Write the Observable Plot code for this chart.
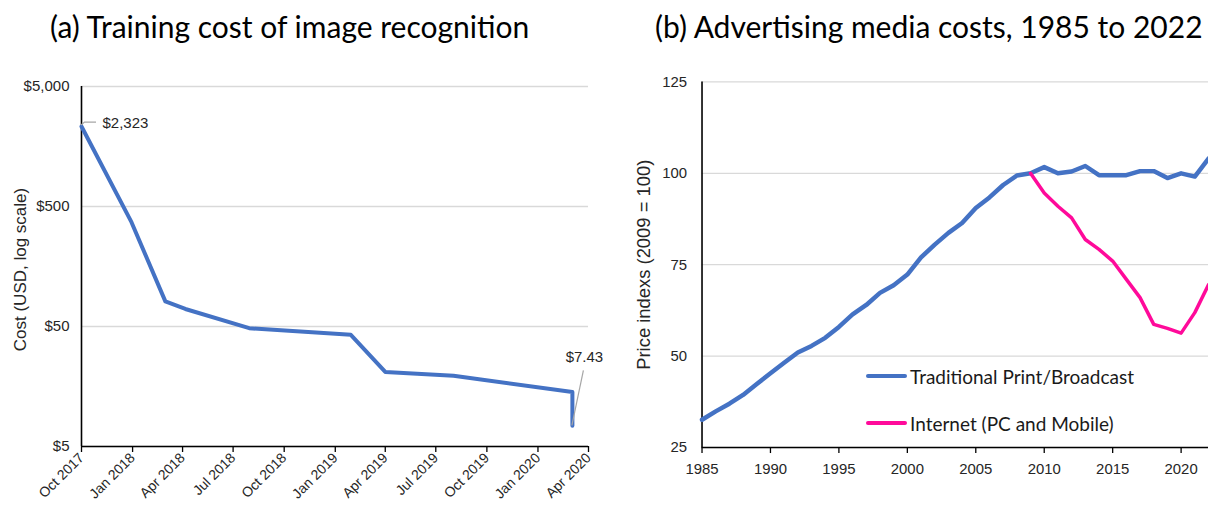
<!DOCTYPE html>
<html>
<head>
<meta charset="utf-8">
<script src="https://cdn.jsdelivr.net/npm/d3@7"></script>
<script src="https://cdn.jsdelivr.net/npm/@observablehq/plot@0.6"></script>
<style>
  html, body { margin: 0; padding: 0; background: #fff; overflow: hidden; width: 1208px; height: 506px; }
  #wrap { position: relative; width: 1208px; height: 506px; overflow: hidden; }
  .title { position: absolute; top: 11px; line-height: 1; font-family: Lato, "Open Sans", sans-serif; font-size: 30px; color: #000; white-space: nowrap; }
  .panel { position: absolute; top: 60px; }
  .legend-item { position: absolute; display: flex; align-items: center; font-family: Lato, "Open Sans", sans-serif; font-size: 19px; color: #1a1a1a; white-space: nowrap; }
  .swatch { display: inline-block; width: 41px; border-radius: 3px; margin-right: 3px; }
</style>
</head>
<body>
<div id="wrap">
  <div class="title" id="titleA" style="left:50px"></div>
  <div class="title" id="titleB" style="left:655px"></div>
  <div class="panel" id="panelA" style="left:0px"></div>
  <div class="panel" id="panelB" style="left:604px"></div>
  <div id="legend"></div>
</div>
<script>
// ---- Panel (a): training cost of image recognition ----
const titleA = "(a) Training cost of image recognition";
const costDates = ["2017-10-01", "2017-12-30", "2018-03-01", "2018-04-06", "2018-07-30",
                   "2019-01-29", "2019-04-01", "2019-08-02", "2020-03-03", "2020-03-03"];
const costValues = [2323, 370, 81, 70, 48.4, 42.6, 20.9, 19.4, 14.2, 7.43];
const costTicks = [5, 50, 500, 5000];
const costDateTicks = ["2017-10-01", "2018-01-01", "2018-04-01", "2018-07-01", "2018-10-01",
                       "2019-01-01", "2019-04-01", "2019-07-01", "2019-10-01", "2020-01-01", "2020-04-01"];
const costYLabel = "Cost (USD, log scale)";
const costLabelled = [0, costValues.length - 1]; // first and last points carry value labels

// ---- Panel (b): advertising media costs ----
const titleB = "(b) Advertising media costs, 1985 to 2022";
const adYears = d3.range(1985, 2023);
const traditional = [32.6, 34.9, 37.0, 39.4, 42.4, 45.3, 48.2, 51.0, 52.8, 55.0,
                     58.0, 61.4, 64.0, 67.3, 69.4, 72.3, 77.0, 80.5, 83.7, 86.4,
                     90.5, 93.4, 96.8, 99.4, 100.0, 101.7, 100.0, 100.5, 102.0, 99.5,
                     99.5, 99.5, 100.6, 100.6, 98.7, 100.0, 99.1, 104.0];
const internetYears = d3.range(2009, 2023);
const internet = [100.0, 94.6, 91.0, 87.8, 81.9, 79.2, 76.0, 71.0, 66.0, 58.7, 57.6, 56.3, 61.9, 69.5];
const adTicks = [25, 50, 75, 100, 125];
const yearTicks = [1985, 1990, 1995, 2000, 2005, 2010, 2015, 2020];
const adYLabel = "Price indexs (2009 = 100)";
const seriesNames = ["Traditional Print/Broadcast", "Internet (PC and Mobile)"];
const seriesColors = ["#4472C4", "#FF0A9A"];

const ink = "#262626";
const gridColor = "#d9d9d9";
const font = "'Liberation Sans', Arial, sans-serif";

document.getElementById("titleA").textContent = titleA;
document.getElementById("titleB").textContent = titleB;

const costData = costDates.map((d, i) => ({date: new Date(d), cost: costValues[i]}));
const labelled = costLabelled.map(i => costData[i]);
const dollars = d3.format("$,");

// leader lines from a point, drawn as pixel polylines through the scales
function leader(point, offsets) {
  return (index, scales) => {
    const x0 = scales.x(point.date), y0 = scales.y(point.cost);
    const p = d3.create("svg:path")
      .attr("fill", "none").attr("stroke", "#a6a6a6").attr("stroke-width", 1.2)
      .attr("d", "M" + offsets.map(([dx, dy]) => `${x0 + dx},${y0 + dy}`).join("L"));
    return p.node();
  };
}

const chartA = Plot.plot({
  width: 604, height: 446,
  marginTop: 26, marginBottom: 60, marginLeft: 81, marginRight: 16,
  style: {fontFamily: font, fontSize: "15px", color: ink, background: "transparent", overflow: "visible"},
  x: {type: "utc", domain: [new Date(costDateTicks[0]), new Date(costDateTicks[costDateTicks.length - 1])]},
  y: {type: "log", domain: [costTicks[0], costTicks[costTicks.length - 1]], axis: null},
  marks: [
    Plot.gridY(costTicks, {stroke: gridColor, strokeOpacity: 1, strokeWidth: 1.3}),
    // log-axis labels at 5, 50, 500, 5000
    Plot.text(costTicks, {y: d => d, text: dollars, frameAnchor: "left", textAnchor: "end",
      dx: -12, fontSize: 15, fill: ink}),
    Plot.axisX(costDateTicks.map(d => new Date(d)), {tickSize: 6, tickPadding: 3, tickRotate: -45,
      tickFormat: d3.utcFormat("%b %Y"), label: null, fontSize: 14, stroke: "#000", strokeWidth: 1.3}),
    Plot.ruleY([costTicks[0]], {stroke: "#000", strokeWidth: 1.6}),
    Plot.ruleX([new Date(costDateTicks[0])], {stroke: "#000", strokeWidth: 1.6}),
    Plot.text([costYLabel], {frameAnchor: "left", textAnchor: "middle", dx: -61, dy: 3, rotate: -90, fontSize: 17, fill: ink}),
    Plot.line(costData, {x: "date", y: "cost", stroke: "#4472C4", strokeWidth: 4,
      strokeLinejoin: "round", strokeLinecap: "round"}),
    leader(labelled[0], [[0, -1], [3.5, -3.8], [15, -3.8]]),
    leader(labelled[1], [[0, 0], [11.5, -55]]),
    Plot.text([labelled[0]], {x: "date", y: "cost", text: d => dollars(d.cost),
      textAnchor: "start", dx: 21, dy: -3, fontSize: 15, fill: ink}),
    Plot.text([labelled[1]], {x: "date", y: "cost", text: d => "$" + d.cost.toFixed(2),
      textAnchor: "middle", dx: 12, dy: -69, fontSize: 15, fill: ink})
  ]
});
document.getElementById("panelA").appendChild(chartA);

const adData = [
  ...adYears.map((y, i) => ({year: y, value: traditional[i], series: seriesNames[0]})),
  ...internetYears.map((y, i) => ({year: y, value: internet[i], series: seriesNames[1]}))
];

const chartB = Plot.plot({
  width: 607, height: 446,
  marginTop: 21.5, marginBottom: 57, marginLeft: 98, marginRight: 0,
  style: {fontFamily: font, fontSize: "15px", color: ink, background: "transparent", overflow: "visible"},
  x: {domain: [adYears[0], adYears[adYears.length - 1]]},
  y: {domain: [adTicks[0], adTicks[adTicks.length - 1]]},
  color: {domain: seriesNames, range: seriesColors},
  marks: [
    Plot.gridY(adTicks, {stroke: gridColor, strokeOpacity: 1, strokeWidth: 1.3}),
    Plot.axisY(adTicks, {tickSize: 0, tickPadding: 15, label: null, fontSize: 15}),
    Plot.axisX(yearTicks, {tickSize: 6, tickPadding: 10, tickFormat: d3.format("d"), label: null,
      fontSize: 15, stroke: "#000", strokeWidth: 1.3}),
    Plot.ruleY([adTicks[0]], {stroke: "#000", strokeWidth: 1.6}),
    Plot.ruleX([adYears[0]], {stroke: "#000", strokeWidth: 1.6}),
    Plot.text([adYLabel], {frameAnchor: "left", textAnchor: "middle", dx: -58, rotate: -90, fontSize: 18.5, fill: ink}),
    Plot.line(adData.filter(d => d.series === seriesNames[0]), {x: "year", y: "value", stroke: "series",
      strokeWidth: 4.5, strokeLinejoin: "round", strokeLinecap: "round"}),
    Plot.line(adData.filter(d => d.series === seriesNames[1]), {x: "year", y: "value", stroke: "series",
      strokeWidth: 3.5, strokeLinejoin: "round", strokeLinecap: "round"})
  ]
});
document.getElementById("panelB").appendChild(chartB);

// in-plot legend
const legend = document.getElementById("legend");
const legendRows = [{top: 376, thick: 4.5}, {top: 423, thick: 3.5}];
seriesNames.forEach((name, i) => {
  const item = document.createElement("div");
  item.className = "legend-item";
  item.style.left = "866px";
  item.style.top = (legendRows[i].top - 12) + "px";
  item.style.height = "24px";
  const sw = document.createElement("span");
  sw.className = "swatch";
  sw.style.height = legendRows[i].thick + "px";
  sw.style.background = seriesColors[i];
  const t = document.createElement("span");
  t.textContent = name;
  item.appendChild(sw);
  item.appendChild(t);
  legend.appendChild(item);
});
</script>
</body>
</html>
